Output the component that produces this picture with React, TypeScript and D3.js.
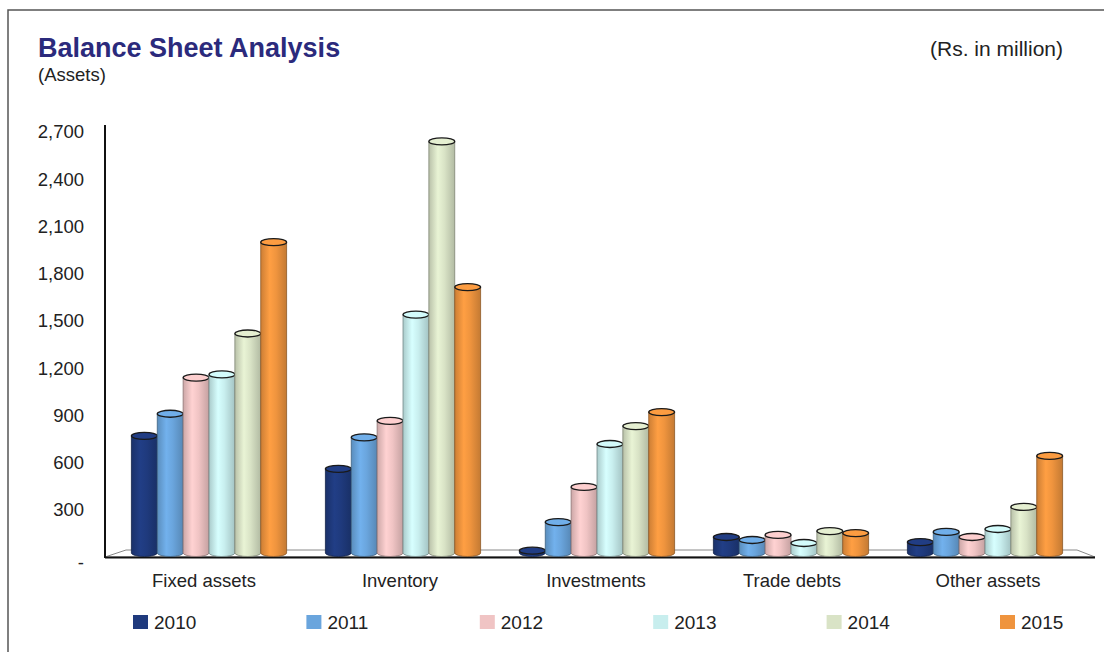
import React from "react";
import * as d3 from "d3";

const categories = ["Fixed assets", "Inventory", "Investments", "Trade debts", "Other assets"];
const years = ["2010", "2011", "2012", "2013", "2014", "2015"];
const values2010 = [770, 560, 40, 127, 95];
const values2011 = [910, 760, 222, 108, 159];
const values2012 = [1140, 865, 445, 140, 127];
const values2013 = [1160, 1540, 718, 89, 178];
const values2014 = [1420, 2640, 832, 165, 318];
const values2015 = [2000, 1715, 921, 152, 642];
const yTicks = [0, 300, 600, 900, 1200, 1500, 1800, 2100, 2400, 2700];
const colors = ["#1f3a7d", "#6aa5dd", "#f0c4c4", "#c8eeee", "#d9e3c6", "#ef943e"];

const series = [values2010, values2011, values2012, values2013, values2014, values2015];

function shade(c: string, k: number) {
  const col = d3.color(c)!;
  return k > 0 ? col.brighter(k).formatHex() : col.darker(-k).formatHex();
}

export default function App() {
  const font = "'Liberation Sans', Arial, sans-serif";
  const y = d3.scaleLinear().domain([0, 2700]).range([557, 132]);
  const x = d3.scaleBand().domain(categories).range([112, 1082]).paddingInner(0.2).paddingOuter(0.1);
  const xl = d3.scaleBand().domain(categories).range([106, 1086]).paddingInner(0.2).paddingOuter(0.1);
  const xi = d3.scaleBand().domain(years).range([0, x.bandwidth()]);
  const base = 553;
  const ry = 3.5;
  const legendX = d3.scaleLinear().domain([0, 5]).range([133, 1000]);

  return (
    <svg width={1104} height={652} style={{ position: "absolute", left: 0, top: 0, background: "#fff" }} fontFamily={font}>
      <defs>
        {colors.map((c, i) => (
          <linearGradient key={i} id={`g${i}`} x1="0" x2="1" y1="0" y2="0">
            <stop offset="0" stopColor={shade(c, -0.45)} />
            <stop offset="0.35" stopColor={shade(c, 0.2)} />
            <stop offset="0.6" stopColor={c} />
            <stop offset="1" stopColor={shade(c, -0.55)} />
          </linearGradient>
        ))}
      </defs>
      <rect x={8} y={10} width={1110} height={660} fill="none" stroke="#555" strokeWidth={1.5} />
      <text x={38} y={57} fontSize={27} fontWeight="bold" fill="#2b2a7c">Balance Sheet Analysis</text>
      <text x={38} y={81} fontSize={18.5} fill="#222">(Assets)</text>
      <text x={1063} y={56} fontSize={21} fill="#222" textAnchor="end">(Rs. in million)</text>

      {/* floor */}
      <polygon points="105,557 1095,557 1077,550 126,550" fill="#fff" stroke="#888" strokeWidth={1} />
      <line x1={105} x2={1095} y1={557.5} y2={557.5} stroke="#111" strokeWidth={2} />
      <line x1={105} x2={105} y1={125} y2={558} stroke="#111" strokeWidth={2} />

      {yTicks.map((t) => (
        <text key={t} x={84} y={y(t) + (t === 0 ? 6 : 0)} dy="0.35em" fontSize={18.5} fill="#222" textAnchor="end">
          {t === 0 ? "-" : d3.format(",")(t)}
        </text>
      ))}

      {categories.map((c, ci) => (
        <g key={c}>
          {series.map((vals, si) => {
            const bx = x(c)! + xi(years[si])!;
            const w = xi.bandwidth();
            const top = y(vals[ci]);
            const cx = bx + w / 2;
            const col = colors[si];
            return (
              <g key={si}>
                <path
                  d={`M${bx},${top} L${bx},${base} A${w / 2},${ry} 0 0 0 ${bx + w},${base} L${bx + w},${top} Z`}
                  fill={`url(#g${si})`}
                  stroke={shade(col, -1.5)}
                  strokeWidth={0.8}
                />
                <ellipse cx={cx} cy={top} rx={w / 2} ry={ry} fill={shade(col, 0.15)} stroke="#1a1a1a" strokeWidth={1.3} />
              </g>
            );
          })}
          <text x={xl(c)! + xl.bandwidth() / 2} y={587} fontSize={18.5} fill="#222" textAnchor="middle">{c}</text>
        </g>
      ))}

      {years.map((yr, i) => (
        <g key={yr}>
          <rect x={legendX(i)} y={615} width={15} height={14} fill={colors[i]} />
          <text x={legendX(i) + 21} y={629} fontSize={19} fill="#222">{yr}</text>
        </g>
      ))}
    </svg>
  );
}
